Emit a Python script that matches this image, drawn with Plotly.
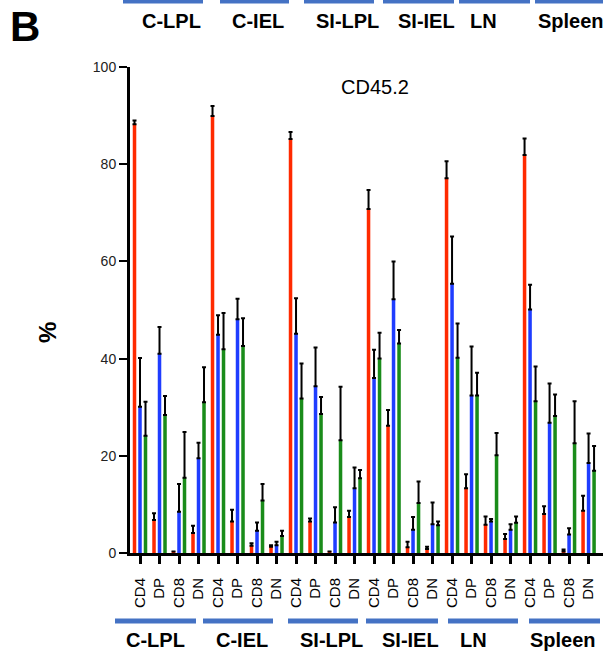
import plotly.graph_objects as go

# ---- data ----
groups = ["C-LPL", "C-IEL", "SI-LPL", "SI-IEL", "LN", "Spleen"]
subsets = ["CD4", "DP", "CD8", "DN"]
tick_labels = [s for g in groups for s in subsets]

red_vals = [88.2, 6.8, 0.3, 4.1,
            89.9, 6.5, 1.5, 1.3,
            85.2, 6.5, 0.3, 7.4,
            70.8, 26.2, 1.2, 0.8,
            77.1, 13.3, 5.8, 2.9,
            81.9, 8.0, 0.3, 8.7]
red_err = [0.8, 1.4, 0.0, 1.5,
           2.1, 2.4, 0.5, 0.3,
           1.4, 0.6, 0.0, 1.3,
           3.9, 3.2, 1.1, 0.5,
           3.5, 2.9, 1.7, 1.0,
           3.4, 1.6, 0.4, 3.1]

blue_vals = [30.1, 41.0, 8.5, 19.5,
             44.9, 48.1, 4.6, 1.6,
             45.1, 34.3, 6.3, 13.3,
             36.0, 52.2, 4.8, 5.9,
             55.4, 32.4, 6.5, 4.8,
             50.1, 26.8, 3.8, 18.5]
blue_err = [10.0, 5.5, 5.7, 3.2,
            4.0, 4.2, 1.7, 0.7,
            7.3, 8.0, 3.1, 4.3,
            5.8, 7.8, 2.6, 4.5,
            9.7, 10.1, 0.5, 1.1,
            5.1, 8.1, 1.3, 6.1]

green_vals = [24.1, 28.4, 15.5, 31.0,
              41.9, 42.6, 10.8, 3.5,
              31.8, 28.6, 23.2, 15.4,
              40.0, 43.1, 10.3, 5.7,
              40.2, 32.4, 20.1, 6.2,
              31.2, 28.2, 22.6, 16.9]
green_err = [7.0, 3.9, 9.4, 7.2,
             7.5, 5.7, 3.4, 1.1,
             7.2, 3.5, 11.0, 1.7,
             5.3, 2.8, 4.4, 0.8,
             7.0, 4.7, 4.6, 1.3,
             7.2, 4.4, 8.6, 5.1]

y_ticks = [0, 20, 40, 60, 80, 100]

# ---- figure geometry (pixels) ----
W, H = 603, 655
L, R, T, B = 130, 0, 67, 102
PW, PH = W - L - R, H - T - B


def px(x):
    return (x - L) / PW


def py(y):
    return (H - B - y) / PH


xs = list(range(len(tick_labels)))

fig = go.Figure()
for vals, errs, col in [(red_vals, red_err, "#FF2A00"),
                        (blue_vals, blue_err, "#1F3DFF"),
                        (green_vals, green_err, "#1A8C1A")]:
    fig.add_trace(go.Bar(
        x=xs, y=vals, marker=dict(color=col, line=dict(width=0)),
        error_y=dict(type="data", array=errs, arrayminus=[0] * len(errs),
                     symmetric=False, color="black", thickness=2, width=2),
        showlegend=False, cliponaxis=False,
    ))

fig.update_layout(
    width=W, height=H,
    margin=dict(l=L, r=R, t=T, b=B, pad=0),
    paper_bgcolor="white", plot_bgcolor="white",
    barmode="group", bargap=0.154, bargroupgap=0.36,
    font=dict(family="Liberation Sans, Arial, sans-serif", color="black"),
)

fig.update_xaxes(
    range=[-0.513, 23.74], tickmode="array", tickvals=xs, ticktext=tick_labels,
    tickangle=-90, ticks="outside", ticklen=8, tickwidth=3, tickcolor="black",
    showline=True, linecolor="black", linewidth=3, showgrid=False, zeroline=False,
    tickfont=dict(size=15, color="black"), ticklabelstandoff=8,
)
fig.update_yaxes(
    range=[0, 100], tickmode="array", tickvals=y_ticks,
    ticks="outside", ticklen=8, tickwidth=2, tickcolor="black",
    showline=True, linecolor="black", linewidth=3, showgrid=False, zeroline=False,
    tickfont=dict(size=14, color="#222"),
)

annotations = []
# panel letter
annotations.append(dict(x=px(8), y=py(26), xref="paper", yref="paper", text="<b>B</b>",
                        showarrow=False, xanchor="left", yanchor="middle",
                        font=dict(size=42, color="black")))
# title
annotations.append(dict(x=px(375), y=py(87), xref="paper", yref="paper", text="CD45.2",
                        showarrow=False, xanchor="center", yanchor="middle",
                        font=dict(size=20, color="black")))
# y label
annotations.append(dict(x=px(47), y=py(333), xref="paper", yref="paper", text="<b>%</b>",
                        showarrow=False, textangle=-90, xanchor="center", yanchor="middle",
                        font=dict(size=24, color="black")))

shapes = []
# bottom group lines and labels
bottom_spans = [(115, 196), (203, 273), (288, 358), (366, 438), (448, 518), (529, 600)]
bottom_centers = [155, 242, 331, 410, 473, 563]
for (a, b), c, g in zip(bottom_spans, bottom_centers, groups):
    shapes.append(dict(type="line", xref="paper", yref="paper", x0=px(a), x1=px(b),
                       y0=py(621), y1=py(621), line=dict(color="#4472C4", width=5)))
    annotations.append(dict(x=px(c), y=py(640), xref="paper", yref="paper", text="<b>%s</b>" % g,
                            showarrow=False, xanchor="center", yanchor="middle",
                            font=dict(size=20, color="black")))
# top group lines and labels (from panel above, cropped)
top_spans = [(123, 203), (220, 289), (304, 374), (383, 454), (459, 530), (535, 640)]
top_centers = [171, 258, 347, 426, 483, 571]
for (a, b), c, g in zip(top_spans, top_centers, groups):
    shapes.append(dict(type="line", xref="paper", yref="paper", x0=px(a), x1=px(b),
                       y0=py(1.5), y1=py(1.5), line=dict(color="#4472C4", width=4)))
    annotations.append(dict(x=px(c), y=py(21.5), xref="paper", yref="paper", text="<b>%s</b>" % g,
                            showarrow=False, xanchor="center", yanchor="middle",
                            font=dict(size=20, color="black")))

fig.update_layout(annotations=annotations, shapes=shapes)
fig.write_html("out.html", config={"displayModeBar": False},
               post_script="document.body.style.margin='0';document.body.style.overflow='hidden';")
